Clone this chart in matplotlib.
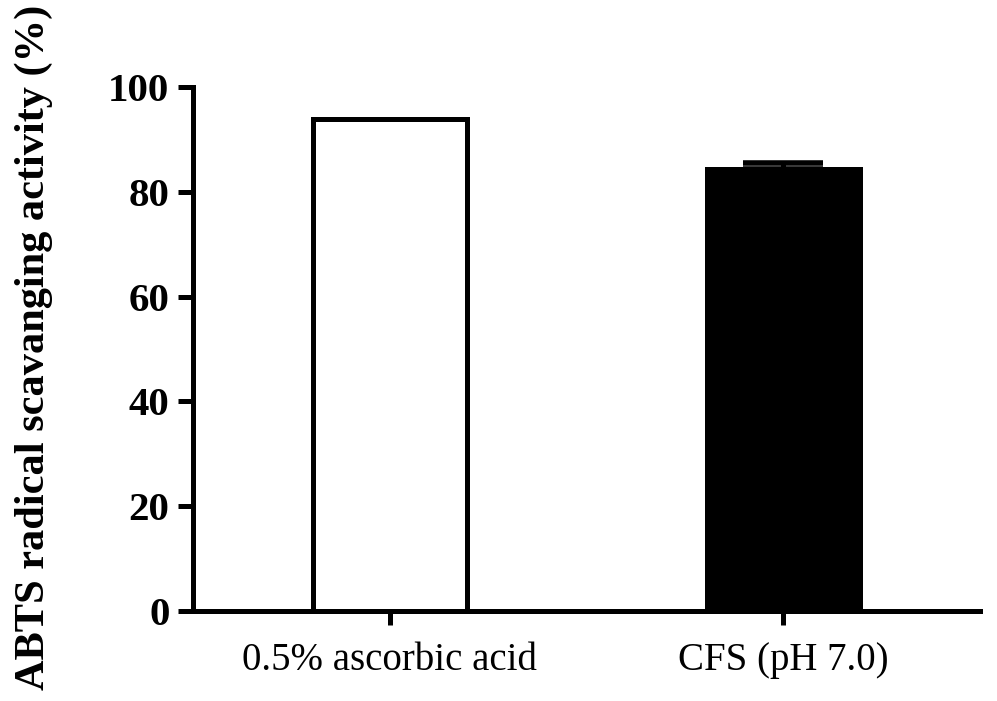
import matplotlib
matplotlib.use("Agg")
import matplotlib.pyplot as plt

categories = ["0.5% ascorbic acid", "CFS (pH 7.0)"]
values = [93.8, 84.3]
errors = [0.0, 1.1]
face_colors = ["white", "black"]
y_ticks = [0, 20, 40, 60, 80, 100]
y_label = "ABTS radical scavanging activity (%)"

plt.rcParams['font.family'] = ['Liberation Serif', 'DejaVu Serif']

fig = plt.figure(figsize=(9.97, 7.01), dpi=100)
ax = fig.add_axes([0.1936, 0.1284, 0.983 - 0.1936, 0.8759 - 0.1284])

x = list(range(len(categories)))
ax.bar(x, values, width=0.39, color=face_colors, edgecolor="black", linewidth=3.6, zorder=2)
for xi, v, e in zip(x, values, errors):
    if e > 0:
        ax.errorbar(xi, v, yerr=[[0], [e]], fmt="none", ecolor="black",
                    elinewidth=3.6, capsize=29, capthick=4, zorder=3)

ax.set_xlim(-0.5, 1.5)
ax.set_ylim(0, 100)
ax.set_yticks(y_ticks)
ax.set_yticklabels([str(t) for t in y_ticks], fontsize=29.5, fontweight="bold")
ax.set_xticks(x)
ax.set_xticklabels(categories, fontsize=28)
ax.tick_params(axis="y", length=11, width=3.6, pad=6)
ax.tick_params(axis="x", length=10, width=3.6, pad=12)

for s in ["top", "right"]:
    ax.spines[s].set_visible(False)
for s in ["left", "bottom"]:
    ax.spines[s].set_linewidth(3.6)

ax.set_ylabel(y_label, fontsize=30.5, fontweight="bold")
ax.yaxis.set_label_coords(-0.178, 0.504)

fig.savefig("out.png", dpi=100, facecolor="white")
